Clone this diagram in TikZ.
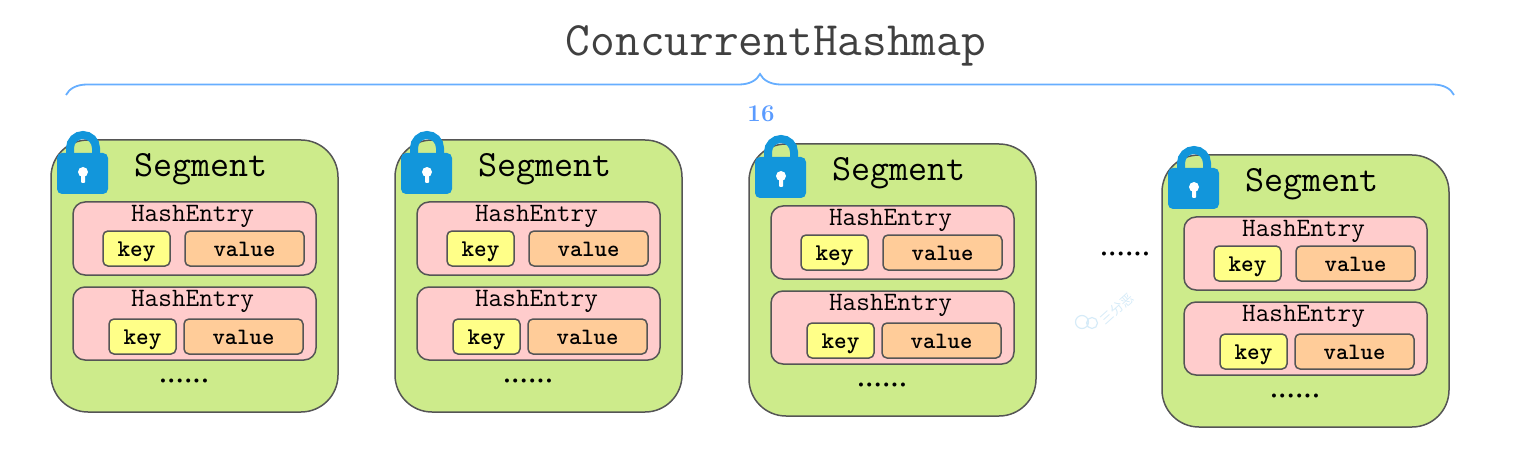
\documentclass[tikz,border=0pt]{standalone}
\usepackage{fontspec}
\newfontfamily\cjk{Noto Sans CJK SC}
\newfontfamily\dotfont{Liberation Serif}
\usetikzlibrary{positioning,decorations.pathreplacing}
\definecolor{segfill}{HTML}{CDEB8B}
\definecolor{entryfill}{HTML}{FFCCCC}
\definecolor{keyfill}{HTML}{FFFF88}
\definecolor{valfill}{HTML}{FFCC99}
\definecolor{edgegray}{HTML}{555555}
\definecolor{lockblue}{HTML}{1296DB}
\definecolor{braceblue}{HTML}{66AEFF}
\definecolor{countblue}{HTML}{5A9BFF}
\definecolor{markgray}{HTML}{D6EBF8}
\newcommand{\fsize}[1]{\fontsize{#1}{#1}\selectfont\ttfamily}
\tikzset{
  box/.style={draw=edgegray, line width=1.5pt, outer sep=0pt, inner sep=0pt},
  segbox/.style={box, fill=segfill, rounded corners=37pt, minimum width=287pt, minimum height=272pt},
  entrybox/.style={box, fill=entryfill, rounded corners=12pt, minimum width=243pt, minimum height=73pt},
  keybox/.style={box, fill=keyfill, rounded corners=5pt, minimum width=67pt, minimum height=35pt, text height=15pt, text depth=0pt, font=\fsize{24}\bfseries},
  valbox/.style={box, fill=valfill, rounded corners=5pt, minimum width=119pt, minimum height=35pt, text height=15pt, text depth=0pt, font=\fsize{23.5}\bfseries},
  lbl/.style={inner sep=0pt, outer sep=0pt},
  dotlbl/.style={lbl, font=\dotfont\fontsize{33.6}{34}\selectfont},
  lockicon/.pic={
    \draw[lockblue, line width=8pt] (19,20) -- (19,8) arc[start angle=180, end angle=0, radius=13pt] -- (45,20);
    \fill[lockblue, rounded corners=5pt] (6,13) rectangle (57,54);
    \fill[white] (32,32) circle (5pt);
    \fill[white, rounded corners=1pt] (30,32) rectangle (34,43);
  }
}
\begin{document}
\begin{tikzpicture}[x=1pt, y=-1pt]
  \useasboundingbox (0,0) rectangle (1520,457);
  \node[lbl, font=\fsize{48}, text=black!75] (title) at (776,46) {ConcurrentHashmap};
  \coordinate (braceL) at (66,95);
  \coordinate (braceR) at (1454,95);
  \draw[braceblue, line width=1.8pt, decorate, decoration={brace, amplitude=21pt}] (braceL) -- (braceR);
  \node[lbl, font=\fontsize{24}{24}\selectfont\bfseries, text=countblue] (count) at (761,114) {16};
  \foreach \name/\x/\y in {s1/51/140, s2/395/140, s3/749/144, s4/1162/155} {
    \node[segbox, anchor=north west] (\name) at (\x,\y) {};
    \path (\name.north west) pic {lockicon};
    \node[lbl, font=\fsize{37}] (\name seg) at ([xshift=150pt, yshift=-29pt]\name.north west) {Segment};
    \node[entrybox, below right=62pt and 22pt of \name.north west] (\name e1) {};
    \node[entrybox, below=12pt of \name e1] (\name e2) {};
    \node[lbl, font=\fsize{26.5}] at ([xshift=-2pt, yshift=-14pt]\name e1.north) {HashEntry};
    \node[lbl, font=\fsize{26.5}] at ([xshift=-2pt, yshift=-14pt]\name e2.north) {HashEntry};
    \node[keybox, below right=29pt and 30pt of \name e1.north west] (\name k1) {key};
    \node[valbox, below right=29pt and 112pt of \name e1.north west] (\name v1) {value};
    \node[keybox, below right=32pt and 36pt of \name e2.north west] (\name k2) {key};
    \node[valbox, below right=32pt and 111pt of \name e2.north west] (\name v2) {value};
    \node[dotlbl] (\name dots) at ([xshift=133pt, yshift=-241pt]\name.north west) {......};
  }
  \node[dotlbl] (more) at (1125,254) {......};
  % watermark
  \draw[markgray, line width=1.2pt] (1082,322) circle (6.5pt) (1092,323) circle (5.5pt);
  \node[lbl, text=markgray, rotate=42, font=\cjk\fontsize{13}{13}\selectfont] (mark) at (1117,309) {三分恶};
\end{tikzpicture}
\end{document}
